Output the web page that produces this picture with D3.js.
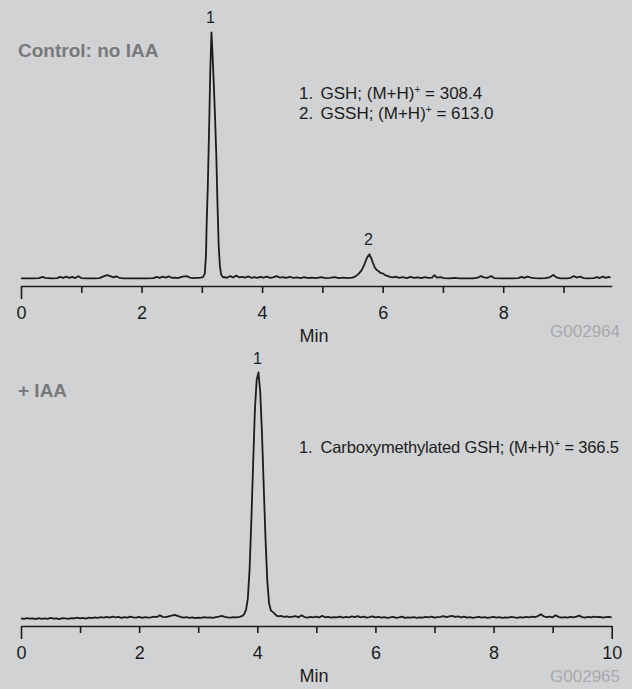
<!DOCTYPE html>
<html>
<head>
<meta charset="utf-8">
<script src="https://cdn.jsdelivr.net/npm/d3@7"></script>
<style>
  html, body { margin: 0; padding: 0; background: #d1d2d4; }
  svg { display: block; }
</style>
</head>
<body>
<script>
const width = 632;
const height = 689;
const font = "'Liberation Sans', Arial, Helvetica, sans-serif";

// top trace: control, no IAA  [min, relative intensity]
const controlTrace = [
  [0.00,0],[0.10,0],[0.20,0],[0.30,0.1],[0.36,0.6],[0.40,0.2],[0.50,0],[0.60,0.1],[0.65,0.6],[0.70,0.2],
  [0.75,0.7],[0.80,0.2],[0.85,0.6],[0.90,0.1],[0.95,0.8],[1.00,0.1],[1.10,0],[1.20,0],[1.30,0.1],[1.38,0.9],
  [1.43,1.3],[1.48,0.9],[1.53,0.4],[1.58,0.8],[1.63,0.2],[1.70,0],[1.80,0],[1.90,0],[2.00,0],[2.10,0],
  [2.20,0.1],[2.25,0.6],[2.30,0.2],[2.35,0.7],[2.40,0.3],[2.45,0.8],[2.50,0.2],[2.55,0.3],[2.60,0.1],[2.68,0.7],
  [2.75,0.9],[2.80,0.3],[2.86,0.1],[2.92,0.2],[2.98,0.3],
  [3.02,0.5],[3.05,2],[3.07,10],[3.08,22],[3.10,38],[3.12,60],[3.14,84],[3.16,100],[3.18,90],[3.20,78],
  [3.22,65],[3.24,50],[3.26,30],[3.28,13],[3.30,5],[3.32,1.5],[3.35,0.4],
  [3.38,0.5],[3.42,0.2],[3.47,0.9],[3.52,0.3],[3.57,1.1],[3.62,0.4],[3.67,0.6],[3.72,0.3],[3.77,0.8],[3.82,0.2],
  [3.87,0.5],[3.92,0.2],[3.97,0.6],[4.02,0.3],[4.08,0.7],[4.13,0.2],[4.18,0.4],[4.24,0.9],[4.29,0.3],[4.35,0.5],
  [4.40,0.2],[4.46,0.6],[4.52,0.2],[4.58,0.4],[4.64,0.1],[4.70,0.5],[4.76,0.1],[4.82,0.3],[4.90,0.1],[4.98,0.5],
  [5.05,0.1],[5.12,0.2],[5.20,0.5],[5.27,0.1],[5.35,0.3],[5.42,0.1],[5.50,0.3],
  [5.55,0.8],[5.60,1.8],[5.65,3.2],[5.70,5.8],[5.74,8.4],[5.78,9.8],[5.81,8.2],[5.84,6.2],[5.87,4.4],[5.90,3.4],
  [5.93,3.0],[5.96,2.2],[6.00,2.0],[6.04,1.3],[6.08,1.0],[6.12,0.6],[6.17,0.4],[6.22,0.7],[6.27,0.2],[6.33,0.5],
  [6.40,0.1],[6.46,0.6],[6.52,0.2],[6.58,0.4],[6.64,0.1],[6.70,0.5],[6.76,0.2],[6.82,0.3],[6.86,1.3],[6.90,0.3],
  [6.96,0.5],[7.02,0.1],[7.10,0],[7.20,0.2],[7.28,0],[7.40,0],[7.50,0],[7.58,0.3],[7.63,0.9],[7.68,0.4],
  [7.74,0.2],[7.80,0.9],[7.85,0.1],[7.95,0],[8.05,0],[8.15,0],[8.25,0.1],[8.30,0.6],[8.35,0.2],[8.40,0.7],
  [8.46,0.3],[8.52,0.1],[8.60,0],[8.70,0.1],[8.78,0.5],[8.83,1.4],[8.88,0.4],[8.95,0],[9.05,0],[9.12,0.2],
  [9.17,0.9],[9.22,0.3],[9.28,0.7],[9.33,0.1],[9.42,0],[9.50,0.1],[9.56,0.5],[9.60,0.1],[9.65,0.7],[9.70,0.2],
  [9.75,0.6],[9.78,0.2]
];

// bottom trace: + IAA
const iaaTrace = [
  [0.00,0.0],[0.05,-0.2],[0.10,0.1],[0.15,-0.1],[0.20,0.0],[0.25,-0.3],[0.30,0.1],[0.35,-0.2],[0.40,0.0],[0.45,-0.2],
  [0.50,0.2],[0.55,-0.1],[0.60,0.0],[0.65,-0.3],[0.70,0.1],[0.75,0.0],[0.80,-0.2],[0.85,0.1],[0.90,0.0],[0.95,0.3],
  [1.00,0.0],[1.05,0.2],[1.10,-0.1],[1.15,0.3],[1.20,0.1],[1.25,0.4],[1.30,0.2],[1.35,0.5],[1.40,0.3],[1.45,0.6],
  [1.50,0.3],[1.55,0.7],[1.60,0.4],[1.65,0.6],[1.70,0.2],[1.75,0.5],[1.80,0.3],[1.85,0.7],[1.90,0.4],[1.95,0.3],
  [2.00,0.6],[2.05,0.2],[2.10,0.5],[2.15,0.3],[2.20,0.4],[2.25,0.7],[2.30,0.5],[2.35,1.2],[2.40,0.6],[2.45,0.5],
  [2.50,0.8],[2.55,1.1],[2.60,1.4],[2.65,1.0],[2.70,0.6],[2.75,0.3],[2.80,0.5],[2.85,0.2],[2.90,0.4],[2.95,0.1],
  [3.00,0.3],[3.05,0.2],[3.10,0.5],[3.15,0.3],[3.20,0.4],[3.25,0.2],[3.30,0.5],[3.35,0.7],[3.40,1.0],[3.45,0.6],
  [3.50,0.4],[3.55,0.3],[3.60,0.5],[3.65,0.4],[3.70,0.6],[3.75,1.0],
  [3.78,1.8],[3.81,3.5],[3.84,8],[3.87,20],[3.90,40],[3.93,63],[3.96,85],[3.99,97],[4.02,100],[4.05,92],
  [4.08,75],[4.11,53],[4.14,32],[4.17,15],[4.20,6],[4.23,3.2],[4.26,2.6],[4.29,2.0],[4.32,1.2],[4.36,0.8],
  [4.40,1.0],[4.45,0.6],[4.50,0.8],[4.55,0.5],[4.60,0.7],[4.65,0.9],[4.70,0.4],[4.75,1.2],[4.80,0.5],[4.85,0.3],
  [4.90,0.6],[4.95,0.4],[5.00,0.7],[5.05,0.3],[5.10,1.0],[5.15,0.4],[5.20,0.6],[5.25,0.3],[5.30,0.5],[5.35,0.4],
  [5.40,0.7],[5.45,0.3],[5.50,0.6],[5.55,0.4],[5.60,0.8],[5.65,0.5],[5.70,0.9],[5.75,0.4],[5.80,0.7],[5.85,0.3],
  [5.90,0.5],[5.95,0.8],[6.00,0.4],[6.05,0.6],[6.10,0.3],[6.15,0.5],[6.20,0.2],[6.25,0.4],[6.30,0.6],[6.35,0.2],
  [6.40,0.4],[6.45,0.7],[6.50,0.2],[6.55,0.4],[6.60,0.3],[6.65,0.5],[6.70,0.2],[6.75,0.4],[6.80,0.3],[6.85,0.6],
  [6.90,0.4],[6.95,0.7],[7.00,0.3],[7.05,0.5],[7.10,0.6],[7.15,0.9],[7.20,0.5],[7.25,0.8],[7.30,1.0],[7.35,0.6],
  [7.40,0.8],[7.45,0.4],[7.50,0.7],[7.55,0.3],[7.60,0.5],[7.65,0.2],[7.70,0.4],[7.75,0.6],[7.80,0.3],[7.85,0.5],
  [7.90,0.2],[7.95,0.4],[8.00,0.6],[8.05,0.3],[8.10,0.5],[8.15,0.2],[8.20,0.4],[8.25,0.3],[8.30,0.6],[8.35,0.4],
  [8.40,0.2],[8.45,0.5],[8.50,0.3],[8.55,0.6],[8.60,0.4],[8.65,0.7],[8.70,0.5],[8.75,0.9],[8.80,1.6],[8.85,0.8],
  [8.90,0.5],[8.95,0.7],[9.00,0.4],[9.05,1.2],[9.10,0.6],[9.15,0.3],[9.20,0.5],[9.25,0.3],[9.30,0.6],[9.35,0.4],
  [9.40,0.7],[9.45,1.1],[9.50,0.5],[9.55,0.3],[9.60,0.6],[9.65,0.4],[9.70,0.7],[9.75,0.5],[9.80,0.6],[9.85,0.3],
  [9.90,0.5],[9.95,0.6],[10.00,0.4]
];

const controlTicks = [0, 1, 2, 3, 4, 5, 6, 7, 8, 9];
const iaaTicks = [0, 1, 2, 3, 4, 5, 6, 7, 8, 9, 10];

const controlPeaks = [{label: "1", t: 3.16, v: 100}, {label: "2", t: 5.78, v: 9.8}];
const iaaPeaks = [{label: "1", t: 4.02, v: 100}];

const controlNotes = [
  {num: "1.", name: "GSH; (M+H)", mass: " = 308.4"},
  {num: "2.", name: "GSSH; (M+H)", mass: " = 613.0"}
];
const iaaNotes = [
  {num: "1.", name: "Carboxymethylated GSH; (M+H)", mass: " = 366.5"}
];

let svg = d3.select("body")
            .append("svg")
            .attr("width", width)
            .attr("height", height)
            .attr("font-family", font);

svg.append("rect")
   .attr("width", width)
   .attr("height", height)
   .attr("fill", "#d1d2d4");

// one chromatogram panel
function drawPanel(opt) {
    let xScale = d3.scaleLinear().domain(opt.xDomain).range([21, 611.7]);
    let yScale = d3.scaleLinear().domain([0, 100]).range([opt.base, opt.top]);

    let g = svg.append("g");

    // trace
    let line = d3.line()
        .x(d => xScale(d[0]))
        .y(d => yScale(d[1]));

    g.append("path")
     .datum(opt.trace)
     .attr("d", line)
     .attr("fill", "none")
     .attr("stroke", "#1c1c1c")
     .attr("stroke-width", 1.8)
     .attr("stroke-linejoin", "round");

    // x axis
    let axis = d3.axisBottom(xScale)
        .tickValues(opt.ticks)
        .tickSize(7)
        .tickSizeOuter(0)
        .tickFormat(d => d % 2 === 0 ? d : "");

    let ax = g.append("g")
        .attr("transform", "translate(0," + opt.axisY + ")")
        .call(axis);

    ax.attr("font-family", font);
    ax.select(".domain")
      .attr("stroke", "#1c1c1c")
      .attr("stroke-width", 1.6);
    ax.selectAll(".tick line")
      .attr("stroke", "#1c1c1c")
      .attr("stroke-width", 1.6)
      .attr("y2", d => opt.tall.includes(d) ? 13 : 7);
    ax.selectAll(".tick text")
      .attr("y", 20)
      .attr("font-size", 18)
      .attr("fill", "#1c1c1c");

    // axis title and figure code
    g.append("text")
     .attr("x", 314)
     .attr("y", opt.axisY + 56)
     .attr("text-anchor", "middle")
     .attr("font-size", 18)
     .attr("fill", "#1c1c1c")
     .text("Min");

    g.append("text")
     .attr("x", 620)
     .attr("y", opt.codeY)
     .attr("text-anchor", "end")
     .attr("font-size", 17)
     .attr("fill", "#a8a9ab")
     .text(opt.code);

    // peak numbers
    g.selectAll(".peak")
     .data(opt.peaks)
     .enter()
     .append("text")
     .attr("class", "peak")
     .attr("x", d => xScale(d.t) - 1)
     .attr("y", d => yScale(d.v) - 9)
     .attr("text-anchor", "middle")
     .attr("font-size", 16)
     .attr("fill", "#1c1c1c")
     .text(d => d.label);

    // condition label
    g.append("text")
     .attr("x", 18)
     .attr("y", opt.titleY)
     .attr("font-size", 19)
     .attr("font-weight", "bold")
     .attr("fill", "#78797b")
     .text(opt.title);

    // peak identities
    let notes = g.selectAll(".note")
        .data(opt.notes)
        .enter()
        .append("text")
        .attr("class", "note")
        .attr("y", (d, i) => opt.noteY + i * 20)
        .attr("font-size", opt.noteSize)
        .attr("letter-spacing", opt.noteSpacing)
        .attr("fill", "#1c1c1c");

    notes.append("tspan").attr("x", 299).text(d => d.num);
    notes.append("tspan").attr("x", 320.5).text(d => d.name);
    notes.append("tspan")
         .attr("font-size", 10)
         .attr("dy", -6)
         .text("+");
    notes.append("tspan")
         .attr("dy", 6)
         .text(d => d.mass);
}

drawPanel({
    trace: controlTrace,
    xDomain: [0, 9.8],
    ticks: controlTicks,
    tall: [0],
    base: 278.3,
    top: 32.3,
    axisY: 286,
    codeY: 337,
    peaks: controlPeaks,
    title: "Control: no IAA",
    titleY: 57,
    notes: controlNotes,
    noteY: 99,
    noteSize: 17,
    noteSpacing: 0,
    code: "G002964"
});

drawPanel({
    trace: iaaTrace,
    xDomain: [0, 10],
    ticks: iaaTicks,
    tall: [0, 10],
    base: 618.3,
    top: 372.5,
    axisY: 626,
    codeY: 682,
    peaks: iaaPeaks,
    title: "+ IAA",
    titleY: 397,
    notes: iaaNotes,
    noteY: 453,
    noteSize: 16.5,
    noteSpacing: -0.15,
    code: "G002965"
});
</script>
</body>
</html>
